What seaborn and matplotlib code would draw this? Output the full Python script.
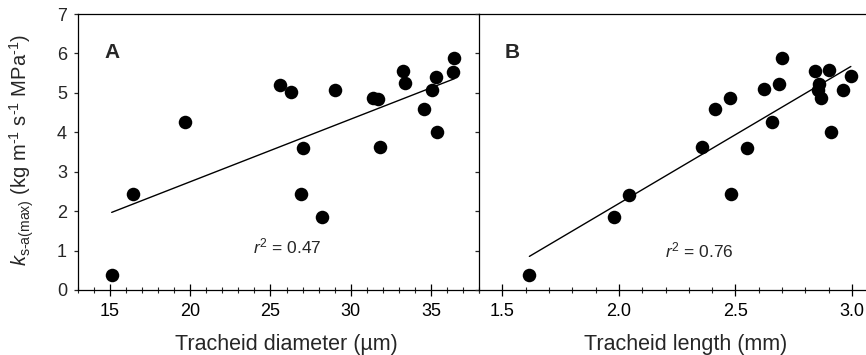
import matplotlib
matplotlib.use("Agg")
import matplotlib.pyplot as plt
import seaborn as sns
import pandas as pd

# Panel A: tracheid diameter (um) vs k_s-a(max)
diam_um = [15.1, 16.4, 19.7, 25.6, 26.3, 27.0, 26.9, 28.2, 29.05, 31.4,
           31.7, 31.8, 33.25, 33.4, 34.6, 35.1, 35.3, 35.4, 36.4, 36.45]
ks_a = [0.38, 2.44, 4.27, 5.20, 5.03, 3.59, 2.44, 1.85, 5.08, 4.88,
        4.85, 3.63, 5.56, 5.24, 4.58, 5.06, 5.41, 4.00, 5.54, 5.89]

# Panel B: tracheid length (mm) vs k_s-a(max)
length_mm = [1.616, 1.978, 2.044, 2.357, 2.413, 2.478, 2.48, 2.551, 2.621, 2.658,
             2.687, 2.70, 2.843, 2.857, 2.854, 2.868, 2.90, 2.91, 2.962, 2.995]
ks_b = [0.37, 1.84, 2.42, 3.62, 4.58, 4.88, 2.44, 3.59, 5.09, 4.27,
        5.23, 5.89, 5.55, 5.22, 5.07, 4.87, 5.57, 4.00, 5.07, 5.42]

r2_labels = ["$r^2$ = 0.47", "$r^2$ = 0.76"]
panel_labels = ["A", "B"]
xlabels = ["Tracheid diameter (µm)", "Tracheid length (mm)"]
xticks_a = [15, 20, 25, 30, 35]
xticks_b = [1.5, 2.0, 2.5, 3.0]
xticklabels_b = ["1.5", "2.0", "2.5", "3.0"]
yticks = [0, 1, 2, 3, 4, 5, 6, 7]

sns.set_theme(style="ticks")
plt.rcParams["font.family"] = ["Liberation Sans", "DejaVu Sans"]
plt.rcParams["mathtext.fontset"] = "custom"
plt.rcParams["mathtext.rm"] = "Liberation Sans"
plt.rcParams["mathtext.it"] = "Liberation Sans:italic"
plt.rcParams["mathtext.bf"] = "Liberation Sans:bold"

dfa = pd.DataFrame({"x": diam_um, "y": ks_a})
dfb = pd.DataFrame({"x": length_mm, "y": ks_b})

fig = plt.figure(figsize=(8.66, 3.55), dpi=100)
W, H = 866, 355
axA = fig.add_axes([78 / W, 1 - 290 / H, 401 / W, 276 / H])
axB = fig.add_axes([479 / W, 1 - 290 / H, 387 / W, 276 / H])

skw = dict(s=95, color="black", linewidths=0, alpha=1)
lkw = dict(color="black", lw=1.0)

sns.regplot(data=dfa, x="x", y="y", ax=axA, ci=None, scatter_kws=skw, line_kws=lkw)
sns.regplot(data=dfb, x="x", y="y", ax=axB, ci=None, scatter_kws=skw, line_kws=lkw)

for ax in (axA, axB):
    ax.set_ylim(0, 7)
    ax.set_yticks(yticks)
    for s in ax.spines.values():
        s.set_linewidth(0.9)
        s.set_color("black")
    ax.tick_params(axis="x", which="major", direction="inout", length=8, width=0.9,
                   labelsize=13, pad=5, colors="black")
    ax.tick_params(axis="x", which="minor", direction="inout", length=5, width=0.8)
    ax.tick_params(axis="y", which="major", direction="out", length=3, width=0.9,
                   labelsize=13, pad=5)
    ax.set_ylabel("")

axA.set_xlim(13, 38)
axA.set_xticks(xticks_a)
axA.set_xticks(list(range(13, 39)), minor=True)
axA.spines["right"].set_visible(False)

axB.set_xlim(1.4, 3.06)
axB.set_xticks(xticks_b)
axB.set_xticklabels(xticklabels_b)
axB.set_xticks([1.4 + 0.1 * i for i in range(17)], minor=True)
axB.spines["right"].set_visible(False)
axB.tick_params(axis="y", labelleft=False)

axA.set_xlabel(xlabels[0], fontsize=15.5)
axB.set_xlabel(xlabels[1], fontsize=15.5)
axA.xaxis.set_label_coords(0.52, -0.16)
axB.xaxis.set_label_coords(0.535, -0.16)

ylab = r"$k_{\mathrm{s\text{-}a(max)}}$ (kg m$^{\text{-}1}$ s$^{\text{-}1}$ MPa$^{\text{-}1}$)"
fig.text(22 / W, 1 - 150 / H, ylab, fontsize=14.5, rotation=90, ha="center", va="center")

axA.text(0.065, 0.86, panel_labels[0], transform=axA.transAxes, fontsize=15,
         fontweight="bold", va="center", ha="left")
axB.text(0.065, 0.86, panel_labels[1], transform=axB.transAxes, fontsize=15,
         fontweight="bold", va="center", ha="left")

axA.text(23.9, 1.1, r2_labels[0], fontsize=12.5, va="center", ha="left")
axB.text(2.197, 1.0, r2_labels[1], fontsize=12.5, va="center", ha="left")

fig.savefig("out.png", dpi=100)
